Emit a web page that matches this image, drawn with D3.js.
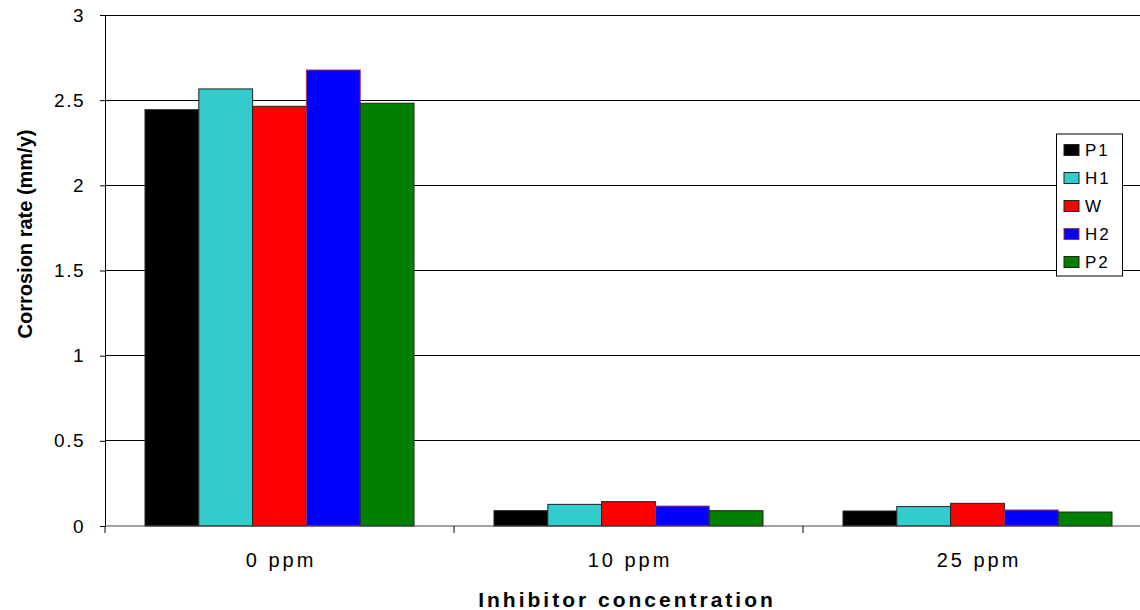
<!DOCTYPE html>
<html>
<head>
<meta charset="utf-8">
<script src="https://cdn.jsdelivr.net/npm/d3@7"></script>
<style>
  body { margin: 0; background: #fff; }
  svg text { font-family: "Liberation Sans", Arial, sans-serif; }
</style>
</head>
<body>
<script>
// data
const categories = ['0 ppm', '10 ppm', '25 ppm'];
const seriesNames = ['P1', 'H1', 'W', 'H2', 'P2'];
const P1 = [2.444, 0.090, 0.088];
const H1 = [2.566, 0.127, 0.114];
const W = [2.464, 0.143, 0.133];
const H2 = [2.677, 0.117, 0.094];
const P2 = [2.482, 0.090, 0.082];
const yTicks = [0, 0.5, 1, 1.5, 2, 2.5, 3];

const seriesValues = [P1, H1, W, H2, P2];
const fills = ['#000000', '#33CCCC', '#FF0000', '#0000FF', '#008000'];
const strokes = ['#222', '#222', '#222', '#993366', '#222'];

const svg = d3.select('body')
    .append('svg')
    .attr('width', 1140)
    .attr('height', 610);

const yScale = d3.scaleLinear()
    .domain([0, 3])
    .range([526, 15]);

const xScale = d3.scaleBand()
    .domain(categories)
    .range([105, 1152]);

const bw = xScale.bandwidth();
const x1 = d3.scaleBand()
    .domain(seriesNames)
    .range([40, bw - 40]);

// gridlines
svg.append('g')
    .selectAll('line')
    .data(yTicks.filter(t => t > 0))
    .enter()
    .append('line')
    .attr('x1', 105)
    .attr('x2', 1140)
    .attr('y1', d => yScale(d))
    .attr('y2', d => yScale(d))
    .attr('stroke', '#000')
    .attr('stroke-width', 1)
    .attr('shape-rendering', 'crispEdges');

// bars
seriesNames.forEach((name, s) => {
    svg.append('g')
    .selectAll('rect')
    .data(seriesValues[s])
    .enter()
    .append('rect')
    .attr('x', (d, i) => xScale(categories[i]) + x1(name))
    .attr('width', x1.bandwidth())
    .attr('y', d => yScale(d))
    .attr('height', d => yScale(0) - yScale(d))
    .attr('fill', fills[s])
    .attr('stroke', strokes[s])
    .attr('stroke-width', 1);
});

// y axis
const yAxis = svg.append('g')
    .attr('transform', 'translate(105, 0)')
    .call(d3.axisLeft(yScale)
    .tickValues(yTicks)
    .tickSize(5)
    .tickPadding(15)
    .tickFormat(d3.format('')));
yAxis.select('.domain').attr('stroke', '#000');
yAxis.selectAll('line').attr('stroke', '#000');
yAxis.selectAll('text')
    .attr('font-size', 19)
    .attr('fill', '#000')
    .style('letter-spacing', '1.5px');

// x axis
svg.append('line')
    .attr('x1', 105)
    .attr('x2', 1140)
    .attr('y1', yScale(0))
    .attr('y2', yScale(0))
    .attr('stroke', '#444');

svg.append('g')
    .selectAll('line')
    .data(categories)
    .enter()
    .append('line')
    .attr('x1', d => xScale(d))
    .attr('x2', d => xScale(d))
    .attr('y1', yScale(0))
    .attr('y2', yScale(0) + 7)
    .attr('stroke', '#000');

svg.append('g')
    .selectAll('text')
    .data(categories)
    .enter()
    .append('text')
    .attr('x', d => xScale(d) + bw / 2 + 1.5)
    .attr('y', 567)
    .attr('text-anchor', 'middle')
    .attr('font-size', 20)
    .style('letter-spacing', '3px')
    .text(d => d);

// axis titles
svg.append('text')
    .attr('x', 627)
    .attr('y', 607)
    .attr('text-anchor', 'middle')
    .attr('font-size', 21)
    .attr('font-weight', 'bold')
    .style('letter-spacing', '3px')
    .text('Inhibitor concentration');

svg.append('text')
    .attr('transform', 'rotate(-90)')
    .attr('x', -234)
    .attr('y', 32)
    .attr('text-anchor', 'middle')
    .attr('font-size', 20)
    .attr('font-weight', 'bold')
    .text('Corrosion rate (mm/y)');

// legend
const legend = svg.append('g');
legend.append('rect')
    .attr('x', 1056.5)
    .attr('y', 134)
    .attr('width', 66)
    .attr('height', 142)
    .attr('fill', '#fff')
    .attr('stroke', '#000');

seriesNames.forEach((name, s) => {
    const cy = 150 + s * 28;
    legend.append('rect')
    .attr('x', 1064)
    .attr('y', cy - 5.5)
    .attr('width', 15)
    .attr('height', 11)
    .attr('fill', fills[s])
    .attr('stroke', strokes[s]);
    legend.append('text')
    .attr('x', 1085)
    .attr('y', cy + 6)
    .attr('font-size', 17)
    .style('letter-spacing', '2px')
    .text(name);
});
</script>
</body>
</html>
